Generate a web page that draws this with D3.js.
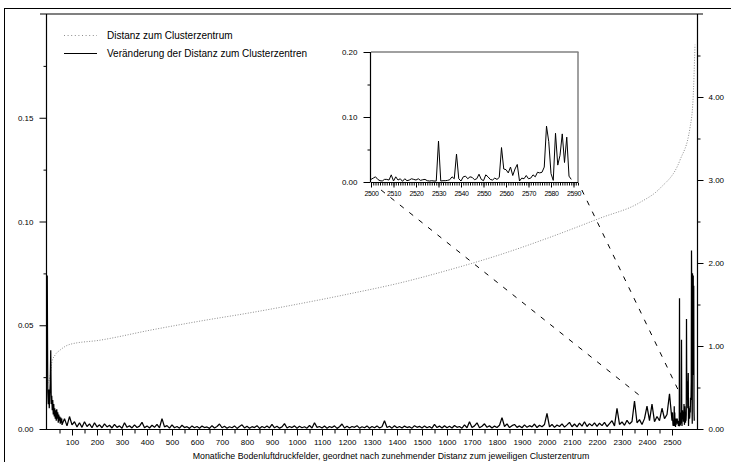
<!DOCTYPE html>
<html>
<head>
<meta charset="utf-8">
<script src="https://cdn.jsdelivr.net/npm/d3@7"></script>
<style>
  body { margin: 0; background: #fff; }
  text { font-family: "Liberation Sans", Arial, sans-serif; fill: #000; }
</style>
</head>
<body>
<script>
const WIDTH  = 731;
const HEIGHT = 462;

// Plot area of the main chart and of the zoom window
const MAIN  = { left: 47, right: 697, top: 14, bottom: 429 };
const INSET = { left: 371, right: 578, top: 52, bottom: 182 };

// Legend entries
const legendLabels = ["Distanz zum Clusterzentrum",
                      "Veränderung der Distanz zum Clusterzentren"];
const xTitle = "Monatliche Bodenluftdruckfelder, geordnet nach zunehmender Distanz zum jeweiligen Clusterzentrum";

// Tick values
const xMajorTicks  = [100,200,300,400,500,600,700,800,900,1000,1100,1200,1300,
                      1400,1500,1600,1700,1800,1900,2000,2100,2200,2300,2400,2500];
const leftTicks    = [0, 0.05, 0.10, 0.15];
const leftMinor    = [0.025, 0.075, 0.125, 0.175];
const rightTicks   = [0, 1, 2, 3, 4];
const rightMinor   = [0.5, 1.5, 2.5, 3.5, 4.5];
const insetYTicks  = [0, 0.10, 0.20];
const insetYMinor  = [0.05, 0.15];
const insetXTicks  = [2500,2510,2520,2530,2540,2550,2560,2570,2580,2590];

// Distance to the cluster centre (right axis), read at these ranks
const distRanks  = [3, 12, 20, 32, 52, 92, 212, 412, 612, 812, 1012, 1212, 1412,
                    1612, 1812, 2012, 2212, 2372, 2452, 2532, 2572, 2584, 2592];
const distValues = [0.55, 0.63, 0.81, 0.89, 0.95, 1.02, 1.07, 1.19, 1.30, 1.40, 1.51, 1.63, 1.76,
                    1.92, 2.10, 2.31, 2.54, 2.73, 2.90, 3.24, 3.63, 3.96, 4.63];

// Change of distance (left axis), in thousandths
// ranks 1..59, every 2nd
const headChange = [74, 18, 12, 19, 10, 16, 22, 38, 12, 16, 9, 14, 7, 12, 6,
                    10, 5, 9, 4, 9.5, 5, 8, 3, 7, 4, 6, 2.5, 5.5, 3, 5];
// ranks 60..2490, every 10th
const midChange = [
  2, 5, 1.5, 6, 2,
  3.5, 1, 3, 0.8, 3.5, 1.2, 2.5, 0.6, 3, 1,
  2, 0.6, 2.5, 1, 1.8, 0.5, 2.2, 0.8, 1.5, 0.4,
  3, 0.8, 1.6, 0.5, 2, 0.7, 1.4, 3.2, 0.6, 1.5,
  0.5, 1.8, 0.8, 2.2, 0.6, 5, 1, 1.6, 0.4, 2,
  0.6, 1.2, 0.4, 1.8, 0.7, 1.1, 0.3, 1.5, 0.6, 1.2,
  0.4, 1.4, 0.7, 1, 0.3, 1.6, 0.5, 1.2, 2.4, 0.6,
  1.3, 0.4, 1.1, 0.6, 1.5, 0.3, 1.2, 2, 0.5, 1.3,
  0.4, 1.1, 0.7, 1.6, 0.3, 1.2, 0.6, 1.4, 0.5, 2.2,
  0.6, 1.3, 0.4, 1, 2.6, 0.5, 1.2, 0.7, 1.5, 0.4,
  1.3, 0.6, 1.1, 0.4, 1.7, 0.5, 3, 0.8, 1.2, 0.5,
  1.4, 0.4, 1.2, 0.7, 1.5, 0.3, 1.1, 2.4, 0.5, 1.3,
  0.5, 1.2, 0.8, 1.6, 0.4, 1.1, 0.6, 1.5, 0.4, 1.2,
  0.6, 1.5, 0.5, 1.1, 4, 0.7, 1.3, 0.4, 1.6, 0.6,
  1.2, 0.5, 1.4, 0.7, 1.1, 0.4, 1.6, 0.8, 1.3, 0.5,
  1.5, 0.6, 1.2, 0.4, 2.2, 0.7, 1.4, 0.5, 1.6, 0.6,
  1.3, 0.5, 1.7, 0.8, 1.2, 0.4, 2, 0.6, 3.5, 0.7,
  1.5, 3, 0.6, 1.3, 2.5, 0.8, 1.6, 0.5, 1.4, 0.7,
  1.8, 5.5, 1.2, 2.5, 0.7, 1.6, 2.2, 0.8, 1.5, 0.6,
  2, 0.8, 1.6, 1, 2.4, 0.7, 1.8, 1.1, 2.2, 7.5,
  1, 2.2, 0.8, 1.9, 1.2, 2.5, 0.9, 2, 3.2, 1.1,
  2.4, 1, 2.8, 1.4, 3.5, 1.2, 2.6, 1.5, 3, 1.3,
  2.8, 1.6, 3.2, 1.2, 2.6, 4, 1.5, 10, 2.2, 3.4,
  1.8, 4.2, 2.4, 3.6, 13.5, 3, 4.5, 2.2, 5, 11,
  4, 12, 3.5, 6, 4, 10, 5, 7, 17];
// ranks 2500..2589, every rank (also the zoom window)
const tailChange = [
  4, 6, 8, 4, 2, 1.5, 4, 4, 3, 11,
  1.5, 8, 3, 5, 1, 5, 2, 3, 5, 4,
  3, 5, 2.5, 3.5, 4, 2, 1.5, 2, 1.5, 1.5,
  63, 1.5, 2, 2, 2.5, 3.5, 8, 5, 43, 5,
  1.5, 8, 9, 5, 8, 7, 3.5, 5, 12, 4,
  2, 11, 8, 4, 3, 6, 4, 7, 53, 20,
  19, 14, 23, 10, 20, 27, 1.5, 6, 5, 10,
  5, 6, 11, 8, 15, 14, 15, 23, 86, 62,
  13, 2.5, 75, 26, 41, 74, 30, 69, 9, 4];

// Zoom window points on the main chart where the dashed guides end [rank, value]
const zoomMarks = [[2372, 0.016], [2524, 0.019]];

// Build the change series from the three pieces
function buildChange() {
  const s = [];
  headChange.forEach((v, i) => s.push({ rank: 1 + i * 2, value: v / 1000 }));
  midChange.forEach((v, i)  => s.push({ rank: 60 + i * 10, value: v / 1000 }));
  tailChange.forEach((v, i) => s.push({ rank: 2500 + i, value: v / 1000 }));
  return s;
}

const svg = d3.select("body").append("svg")
  .attr("width", WIDTH)
  .attr("height", HEIGHT);

// Outer frame
svg.append("rect")
  .attr("x", 4.5).attr("y", 8.5)
  .attr("width", WIDTH + 20).attr("height", HEIGHT + 20)
  .attr("fill", "none").attr("stroke", "#000").attr("stroke-width", 1);

const xScale = d3.scaleLinear().domain([0, 2600]).range([MAIN.left, MAIN.right]);
const yLeft  = d3.scaleLinear().domain([0, 0.2]).range([MAIN.bottom, MAIN.top]);
const yRight = d3.scaleLinear().domain([0, 5]).range([MAIN.bottom, MAIN.top]);

const xIn = d3.scaleLinear().domain([2500, 2592]).range([INSET.left, INSET.right]);
const yIn = d3.scaleLinear().domain([0, 0.2]).range([INSET.bottom, INSET.top]);

const change = buildChange();

// Tidy an axis group: no domain path, plain ticks
function styleAxis(g, fontSize) {
  g.select(".domain").remove();
  g.selectAll("line").attr("stroke", "#000").attr("stroke-width", 1);
  g.selectAll("text")
    .style("font-family", "'Liberation Sans', Arial, sans-serif")
    .style("font-size", fontSize + "px");
}

function addMainAxes() {
  // frame lines
  svg.append("line")
    .attr("x1", 40).attr("x2", 703)
    .attr("y1", MAIN.top).attr("y2", MAIN.top)
    .attr("stroke", "#808080").attr("stroke-width", 2);
  svg.append("line")
    .attr("x1", 40).attr("x2", 703)
    .attr("y1", MAIN.bottom + 0.5).attr("y2", MAIN.bottom + 0.5)
    .attr("stroke", "#000");
  svg.append("line")
    .attr("x1", MAIN.left - 0.5).attr("x2", MAIN.left - 0.5)
    .attr("y1", MAIN.top).attr("y2", MAIN.bottom)
    .attr("stroke", "#000").attr("stroke-width", 1.2);
  svg.append("line")
    .attr("x1", MAIN.right + 0.5).attr("x2", MAIN.right + 0.5)
    .attr("y1", MAIN.top).attr("y2", MAIN.bottom)
    .attr("stroke", "#000").attr("stroke-width", 1.2);

  // x axis, major and minor
  svg.append("g")
    .attr("transform", "translate(0," + (MAIN.bottom + 0.5) + ")")
    .call(d3.axisBottom(xScale).tickValues(xMajorTicks).tickSize(6).tickPadding(4).tickFormat(d3.format("d")))
    .call(g => styleAxis(g, 8));
  svg.append("g")
    .attr("transform", "translate(0," + (MAIN.bottom + 0.5) + ")")
    .call(d3.axisBottom(xScale).tickValues(xMajorTicks.map(d => d - 50)).tickSize(4).tickFormat(""))
    .call(g => styleAxis(g, 8));

  // left axis
  svg.append("g")
    .attr("transform", "translate(" + (MAIN.left - 0.5) + ",0)")
    .call(d3.axisLeft(yLeft).tickValues(leftTicks).tickSize(7).tickPadding(6).tickFormat(d3.format(".2f")))
    .call(g => styleAxis(g, 8));
  svg.append("g")
    .attr("transform", "translate(" + (MAIN.left - 0.5) + ",0)")
    .call(d3.axisLeft(yLeft).tickValues(leftMinor).tickSize(3).tickFormat(""))
    .call(g => styleAxis(g, 8));

  // right axis
  svg.append("g")
    .attr("transform", "translate(" + (MAIN.right + 0.5) + ",0)")
    .call(d3.axisRight(yRight).tickValues(rightTicks).tickSize(6).tickPadding(5).tickFormat(d3.format(".2f")))
    .call(g => styleAxis(g, 8));
  svg.append("g")
    .attr("transform", "translate(" + (MAIN.right + 0.5) + ",0)")
    .call(d3.axisRight(yRight).tickValues(rightMinor).tickSize(3).tickFormat(""))
    .call(g => styleAxis(g, 8));

  // x axis title
  svg.append("text")
    .attr("x", 391).attr("y", 459)
    .attr("text-anchor", "middle")
    .style("font-size", "8.8px")
    .text(xTitle);
}

function drawSeries() {
  // dotted distance curve (right axis)
  const distData = distRanks.map((r, i) => ({ rank: r, value: distValues[i] }));
  svg.append("path")
    .datum(distData)
    .attr("fill", "none")
    .attr("stroke", "#8c8c8c")
    .attr("stroke-width", 1)
    .attr("stroke-dasharray", "1,1.6")
    .attr("d", d3.line()
      .x(d => xScale(d.rank))
      .y(d => yRight(d.value))
      .curve(d3.curveMonotoneX));

  // solid change line (left axis)
  svg.append("path")
    .datum(change)
    .attr("fill", "none")
    .attr("stroke", "#000")
    .attr("stroke-width", 1.25)
    .attr("stroke-linejoin", "bevel")
    .attr("d", d3.line()
      .x(d => xScale(d.rank))
      .y(d => yLeft(d.value)));
}

function addLegend() {
  const rows = [
    { y: 35, dash: "1,2.6", color: "#8c8c8c" },
    { y: 53, dash: null,    color: "#000" }];
  rows.forEach((r, i) => {
    svg.append("line")
      .attr("x1", 64).attr("x2", 97)
      .attr("y1", r.y + 0.5).attr("y2", r.y + 0.5)
      .attr("stroke", r.color)
      .attr("stroke-dasharray", r.dash);
    svg.append("text")
      .attr("x", 107).attr("y", r.y + 3.5)
      .style("font-size", "10px")
      .text(legendLabels[i]);
  });
}

function addInset() {
  const g = svg.append("g");
  // white background so the main chart does not show through
  g.append("rect")
    .attr("x", INSET.left).attr("y", INSET.top)
    .attr("width", INSET.right - INSET.left)
    .attr("height", INSET.bottom - INSET.top)
    .attr("fill", "#fff");

  g.append("line")
    .attr("x1", INSET.left).attr("x2", INSET.right + 0.5)
    .attr("y1", INSET.top).attr("y2", INSET.top)
    .attr("stroke", "#808080").attr("stroke-width", 1.5);
  g.append("line")
    .attr("x1", INSET.right).attr("x2", INSET.right)
    .attr("y1", INSET.top).attr("y2", INSET.bottom)
    .attr("stroke", "#808080").attr("stroke-width", 1.5);
  g.append("line")
    .attr("x1", INSET.left - 0.5).attr("x2", INSET.left - 0.5)
    .attr("y1", INSET.top).attr("y2", INSET.bottom)
    .attr("stroke", "#000").attr("stroke-width", 1.2);
  g.append("line")
    .attr("x1", INSET.left).attr("x2", INSET.right)
    .attr("y1", INSET.bottom + 0.5).attr("y2", INSET.bottom + 0.5)
    .attr("stroke", "#000");

  g.append("g")
    .attr("transform", "translate(" + (INSET.left - 0.5) + ",0)")
    .call(d3.axisLeft(yIn).tickValues(insetYTicks).tickSize(7).tickPadding(6).tickFormat(d3.format(".2f")))
    .call(a => styleAxis(a, 8));
  g.append("g")
    .attr("transform", "translate(" + (INSET.left - 0.5) + ",0)")
    .call(d3.axisLeft(yIn).tickValues(insetYMinor).tickSize(3).tickFormat(""))
    .call(a => styleAxis(a, 8));

  g.append("g")
    .attr("transform", "translate(0," + (INSET.bottom + 0.5) + ")")
    .call(d3.axisBottom(xIn).tickValues(insetXTicks).tickSize(5).tickPadding(4).tickFormat(d3.format("d")))
    .call(a => styleAxis(a, 7))
    .call(a => a.selectAll("text").style("letter-spacing", "-0.4px"));
  g.append("g")
    .attr("transform", "translate(0," + (INSET.bottom + 0.5) + ")")
    .call(d3.axisBottom(xIn).ticks(92).tickSize(3).tickFormat(""))
    .call(a => styleAxis(a, 7));

  const tail = change.filter(d => d.rank >= 2500);
  g.append("path")
    .datum(tail)
    .attr("fill", "none")
    .attr("stroke", "#000")
    .attr("stroke-width", 1)
    .attr("d", d3.line()
      .x(d => xIn(d.rank))
      .y(d => yIn(d.value)));
}

// Dashed guides from the inset corners down to the zoomed region
function addGuides() {
  const corners = [[INSET.left, INSET.bottom], [INSET.right, INSET.bottom]];
  zoomMarks.forEach((m, i) => {
    const x0 = corners[i][0], y0 = corners[i][1];
    const x1 = xScale(m[0]), y1 = yLeft(m[1]);
    const t  = 8 / (y1 - y0); // leave a small gap below the inset labels
    svg.append("line")
      .attr("x1", x0 + (x1 - x0) * t).attr("y1", y0 + (y1 - y0) * t)
      .attr("x2", x1).attr("y2", y1)
      .attr("stroke", "#000")
      .attr("stroke-width", 1)
      .attr("stroke-dasharray", "5,7");
  });
}

addMainAxes();
drawSeries();
addGuides();
addLegend();
addInset();
</script>
</body>
</html>
